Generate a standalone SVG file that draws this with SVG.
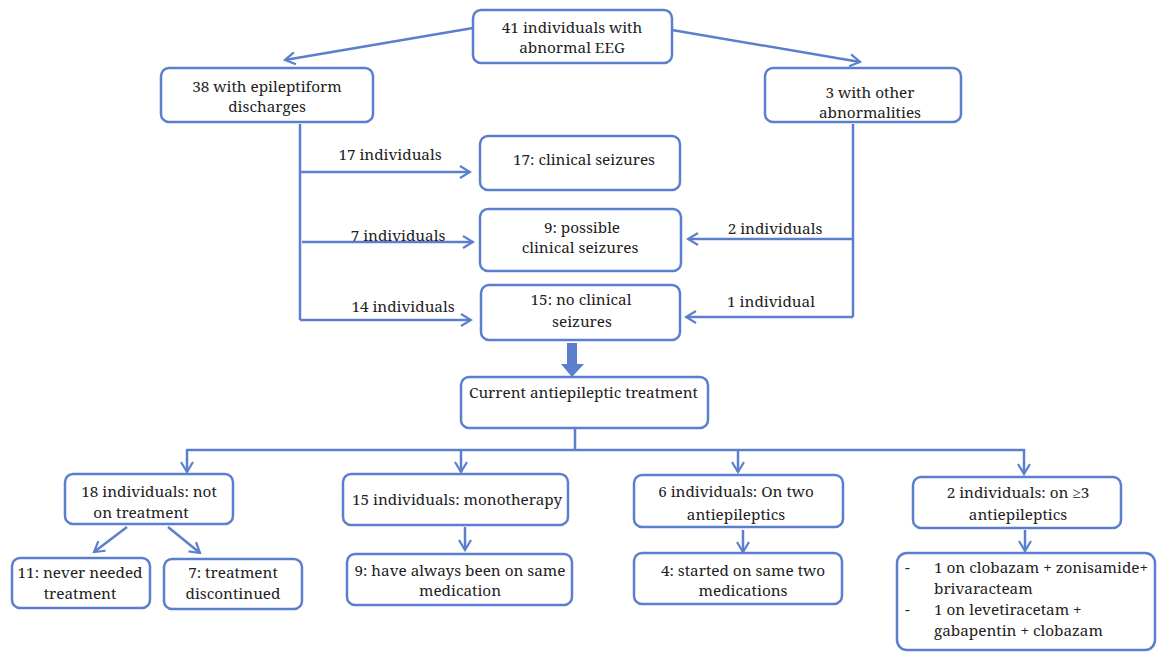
<svg xmlns="http://www.w3.org/2000/svg" width="1162" height="652" viewBox="0 0 1162 652">
<style>
.b{fill:#fff;stroke:#5b7fce;stroke-width:2.5}
.c{fill:none;stroke:#5b7fce;stroke-width:2.5}
.t{font-family:'Noto Serif','Liberation Serif',serif;font-size:15.3px;fill:#222}
.m{text-anchor:middle}
</style>
<defs>
<marker id="a" viewBox="0 0 14 14" refX="12" refY="7" markerWidth="14" markerHeight="14" markerUnits="userSpaceOnUse" orient="auto">
<path d="M2,1 L12,7 L2,13" fill="none" stroke="#5b7fce" stroke-width="2.2"/>
</marker>
</defs>
<rect width="1162" height="652" fill="#fff"/>
<g id="connectors">
<line class="c" x1="473" y1="28" x2="285" y2="60" marker-end="url(#a)"/>
<line class="c" x1="672" y1="30" x2="860" y2="62" marker-end="url(#a)"/>
<polyline class="c" points="300,124 300,320"/>
<line class="c" x1="300" y1="172" x2="470" y2="172" marker-end="url(#a)"/>
<line class="c" x1="302" y1="242" x2="473" y2="242" marker-end="url(#a)"/>
<line class="c" x1="300" y1="320" x2="471" y2="320" marker-end="url(#a)"/>
<polyline class="c" points="853,124 853,317"/>
<line class="c" x1="853" y1="239" x2="688" y2="239" marker-end="url(#a)"/>
<line class="c" x1="853" y1="317" x2="686" y2="317" marker-end="url(#a)"/>
<path d="M567,343 H577 V364 H584 L572,377 L561,364 H567 Z" fill="#5b7fce"/>
<line class="c" x1="575" y1="428" x2="575" y2="451"/>
<line class="c" x1="187" y1="450" x2="1025" y2="450"/>
<line class="c" x1="187" y1="449" x2="187" y2="472" marker-end="url(#a)"/>
<line class="c" x1="461" y1="450" x2="461" y2="472" marker-end="url(#a)"/>
<line class="c" x1="738" y1="450" x2="738" y2="472" marker-end="url(#a)"/>
<line class="c" x1="1024" y1="449" x2="1024" y2="474" marker-end="url(#a)"/>
<line class="c" x1="127" y1="527" x2="94" y2="552" marker-end="url(#a)"/>
<line class="c" x1="168" y1="527" x2="200" y2="553" marker-end="url(#a)"/>
<line class="c" x1="465" y1="527" x2="465" y2="550" marker-end="url(#a)"/>
<line class="c" x1="743" y1="530" x2="743" y2="552" marker-end="url(#a)"/>
<line class="c" x1="1025" y1="530" x2="1025" y2="551" marker-end="url(#a)"/>
<text class="t m" x="390" y="160">17 individuals</text>
<text class="t m" x="398" y="241">7 individuals</text>
<text class="t m" x="403" y="312">14 individuals</text>
<text class="t m" x="775" y="234">2 individuals</text>
<text class="t m" x="771" y="307">1 individual</text>
</g>
<g id="n1"><rect class="b" x="473" y="10" width="199" height="53" rx="8"/>
<text class="t m" x="572" y="33">41 individuals with</text><text class="t m" x="572" y="53">abnormal EEG</text></g>
<g id="n2"><rect class="b" x="161" y="68" width="212" height="54" rx="8"/>
<text class="t m" x="267" y="92">38 with epileptiform</text><text class="t m" x="267" y="112">discharges</text></g>
<g id="n3"><rect class="b" x="765" y="68" width="196" height="54" rx="8"/>
<text class="t m" x="870" y="98">3 with other</text><text class="t m" x="870" y="118">abnormalities</text></g>
<g id="n4"><rect class="b" x="480" y="136" width="200" height="54" rx="8"/>
<text class="t m" x="584" y="165">17: clinical seizures</text></g>
<g id="n5"><rect class="b" x="480" y="209" width="201" height="62" rx="8"/>
<text class="t m" x="582" y="233">9: possible</text><text class="t m" x="580" y="253">clinical seizures</text></g>
<g id="n6"><rect class="b" x="481" y="285" width="199" height="55" rx="8"/>
<text class="t m" x="581" y="305">15: no clinical</text><text class="t m" x="582" y="327">seizures</text></g>
<g id="n7"><rect class="b" x="461" y="377" width="247" height="51" rx="8"/>
<text class="t" x="469" y="398">Current antiepileptic treatment</text></g>
<g id="n8"><rect class="b" x="65" y="474" width="168" height="50" rx="8"/>
<text class="t m" x="149" y="497">18 individuals: not</text><text class="t m" x="141" y="518">on treatment</text></g>
<g id="n9"><rect class="b" x="12" y="558" width="138" height="50" rx="8"/>
<text class="t m" x="80" y="578">11: never needed</text><text class="t m" x="80" y="599">treatment</text></g>
<g id="n10"><rect class="b" x="164" y="559" width="138" height="50" rx="8"/>
<text class="t m" x="233" y="578">7: treatment</text><text class="t m" x="233" y="599">discontinued</text></g>
<g id="n11"><rect class="b" x="343" y="474" width="225" height="51" rx="8"/>
<text class="t m" x="457" y="505">15 individuals: monotherapy</text></g>
<g id="n12"><rect class="b" x="347" y="554" width="225" height="51" rx="8"/>
<text class="t m" x="460" y="576">9: have always been on same</text><text class="t m" x="460" y="596">medication</text></g>
<g id="n13"><rect class="b" x="634" y="475" width="209" height="52" rx="8"/>
<text class="t m" x="736" y="497">6 individuals: On two</text><text class="t m" x="736" y="520">antiepileptics</text></g>
<g id="n14"><rect class="b" x="634" y="553" width="208" height="51" rx="8"/>
<text class="t m" x="743" y="576">4: started on same two</text><text class="t m" x="743" y="596">medications</text></g>
<g id="n15"><rect class="b" x="913" y="477" width="208" height="51" rx="8"/>
<text class="t m" x="1018" y="498">2 individuals: on ≥3</text><text class="t m" x="1018" y="520">antiepileptics</text></g>
<g id="n16"><rect class="b" x="897" y="553" width="258" height="97" rx="10"/>
<text class="t" x="905" y="573">-</text><text class="t" x="934" y="573">1 on clobazam + zonisamide+</text>
<text class="t" x="934" y="594">brivaracteam</text>
<text class="t" x="905" y="615">-</text><text class="t" x="934" y="615">1 on levetiracetam +</text>
<text class="t" x="934" y="636">gabapentin + clobazam</text></g>
</svg>
